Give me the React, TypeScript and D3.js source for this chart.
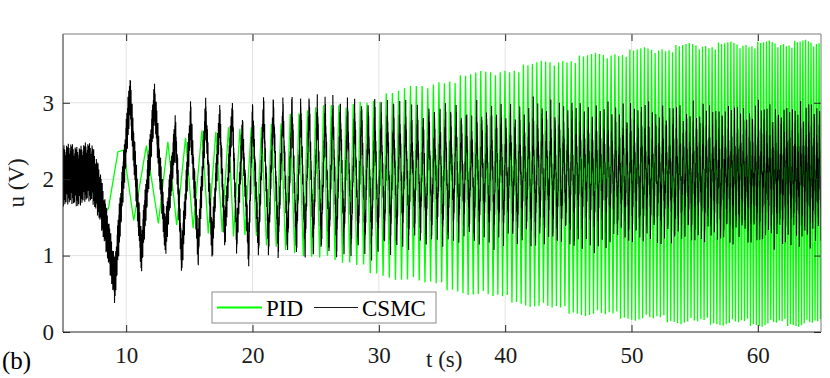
import React, { Component } from "react";
import * as d3 from "d3";

// axis ticks
const xTicks = [10, 20, 30, 40, 50, 60];
const yTicks = [0, 1, 2, 3];

const pidEarlyT = [5.0, 5.25, 5.5, 5.75, 6.0, 6.25, 6.5, 6.75, 7.0, 7.3, 8.1, 8.6, 9.35, 9.8, 10.6, 11.6, 12.55, 13.3, 14.0, 14.7, 15.3, 16.0, 16.5, 17.1, 17.6, 18.1, 18.5, 19.0, 19.4, 19.9];
const pidEarlyU = [2.05, 1.9, 2.15, 1.88, 2.12, 1.9, 2.1, 1.88, 2.08, 1.85, 1.5, 1.62, 2.36, 2.38, 1.46, 2.44, 1.42, 2.49, 1.4, 2.54, 1.36, 2.64, 1.29, 2.62, 1.31, 2.68, 1.25, 2.66, 1.27, 2.68];

// dense part: oscillation period and envelopes read at these times
const chirpT = [20, 25, 30, 35, 40, 45, 50, 55, 60, 65];
const chirpPeriod = [0.82, 0.63, 0.5, 0.43, 0.37, 0.33, 0.29, 0.26, 0.23, 0.21];
const pidUpper = [2.68, 2.9, 3.06, 3.28, 3.42, 3.56, 3.66, 3.74, 3.76, 3.78];
const pidLower = [1.22, 1.0, 0.78, 0.6, 0.44, 0.28, 0.2, 0.14, 0.12, 0.12];
const pidRipple = [0, 0.04, -0.03, 0.05, -0.02, 0.03, -0.05, 0.01, 0.04, -0.04, 0.02, -0.01, 0.03];

// CSMC: centre of the noisy trace at its turning points
const csmcEarlyT = [5.0, 5.6, 6.2, 6.8, 7.3, 7.9, 8.56, 9.1, 10.3, 11.2, 12.25, 13.1, 13.9, 14.4, 15.1, 15.7, 16.3, 16.8, 17.4, 17.8, 18.4, 18.75, 19.2, 19.7, 20.0];
const csmcEarlyU = [2.04, 2.08, 2.02, 2.1, 2.08, 1.8, 1.22, 0.66, 3.1, 1.02, 3.02, 1.22, 2.6, 0.96, 2.78, 1.08, 2.86, 1.12, 2.8, 1.28, 2.86, 1.2, 2.62, 1.04, 2.86];
const csmcMid = [2.0, 2.0, 1.98, 1.96, 1.95, 1.95, 1.96, 1.95, 1.96, 1.95];
const csmcAmp = [0.92, 0.95, 0.92, 0.88, 0.9, 0.95, 0.9, 0.88, 0.88, 0.9];
const csmcSpread = [0.1, 0.15, 0.2, 0.42, 0.45, 0.45, 0.45, 0.45, 0.45, 0.45];
const csmcCycle = [0, 0.6, 0.2, 0.9, 0.1, 0.7, 0.35, 1.0, 0.15, 0.8, 0.4, 0.55, 0.05, 0.75, 0.3, 0.95, 0.25, 0.65];
const noiseT = [5, 7.3, 8.6, 9.5, 12, 20, 30, 65];
const noiseAmp = [0.4, 0.38, 0.3, 0.3, 0.28, 0.24, 0.22, 0.22];
const noiseSeq = [0.9, -0.6, 0.4, -1.0, 0.7, -0.3, 1.0, -0.8, 0.2, -0.5, 0.85, -0.95, 0.5, -0.2, 0.65, -0.75, 0.3, -0.9, 0.75, -0.4, 0.95, -0.65, 0.1];

const FONT = "'Liberation Serif', 'Times New Roman', serif";
const GREEN = "#00ff00";

class App extends Component {
    svgRef = React.createRef<SVGSVGElement>();

    componentDidMount() {
        this.drawChart();
    }

    drawChart() {
        const svg = d3.select(this.svgRef.current);
        svg.selectAll("*").remove();

        const left = 63, right = 821, top = 34, bottom = 332;
        const x = d3.scaleLinear().domain([5, 65]).range([left, right]);
        const y = d3.scaleLinear().domain([0, 3.9]).range([bottom, top]);

        const periodAt = d3.scaleLinear().domain(chirpT).range(chirpPeriod).clamp(true);
        const upAt = d3.scaleLinear().domain(chirpT).range(pidUpper).clamp(true);
        const lowAt = d3.scaleLinear().domain(chirpT).range(pidLower).clamp(true);
        const midAt = d3.scaleLinear().domain(chirpT).range(csmcMid).clamp(true);
        const ampAt = d3.scaleLinear().domain(chirpT).range(csmcAmp).clamp(true);
        const spreadAt = d3.scaleLinear().domain(chirpT).range(csmcSpread).clamp(true);
        const noiseAt = d3.scaleLinear().domain(noiseT).range(noiseAmp).clamp(true);

        // turning points of both traces
        const pidT = [...pidEarlyT];
        const pidU = [...pidEarlyU];
        const csmcT = [...csmcEarlyT];
        const csmcU = [...csmcEarlyU];
        let t = pidEarlyT[pidEarlyT.length - 1];
        let k = 0;
        while (t < 65.4) {
            t += periodAt(t) / 2;
            k++;
            const peak = k % 2 === 0;
            const r = pidRipple.length;
            pidT.push(t);
            pidU.push(peak ? upAt(t) + pidRipple[k % r] : lowAt(t) - pidRipple[(k + 5) % r]);

            const tb = t + 0.2 * periodAt(t);
            const c = csmcCycle[k % csmcCycle.length];
            const a = ampAt(tb) * (1 - spreadAt(tb) * c);
            csmcT.push(tb);
            csmcU.push(peak ? midAt(tb) + a : midAt(tb) - a);
        }

        const pidData = pidT.map((d, i) => [d, pidU[i]] as [number, number]);

        const slow = d3.scaleLinear().domain(csmcT).range(csmcU);
        const grid = d3.range(5, 65.01, 0.015);
        const times = grid.concat(csmcT.filter((d) => d <= 65)).sort((a, b) => a - b);
        const csmcData = times.map((d, i) => [d, slow(d) + noiseAt(d) * noiseSeq[i % noiseSeq.length]] as [number, number]);

        svg.append("rect").attr("width", 830).attr("height", 378).attr("fill", "#fff");

        // grid
        svg.append("g")
            .selectAll("line")
            .data(xTicks)
            .enter()
            .append("line")
            .attr("x1", (d) => x(d))
            .attr("x2", (d) => x(d))
            .attr("y1", top)
            .attr("y2", bottom)
            .attr("stroke", "#e3e3e3");
        svg.append("g")
            .selectAll("line")
            .data(yTicks.slice(1))
            .enter()
            .append("line")
            .attr("x1", left)
            .attr("x2", right)
            .attr("y1", (d) => y(d))
            .attr("y2", (d) => y(d))
            .attr("stroke", "#e3e3e3");

        svg.append("clipPath")
            .attr("id", "plot-clip")
            .append("rect")
            .attr("x", left)
            .attr("y", top)
            .attr("width", right - left)
            .attr("height", bottom - top);

        const line = d3
            .line<[number, number]>()
            .x((d) => x(d[0]))
            .y((d) => y(d[1]));

        const plot = svg.append("g").attr("clip-path", "url(#plot-clip)");
        plot.append("path")
            .datum(pidData)
            .attr("d", line)
            .attr("fill", "none")
            .attr("stroke", GREEN)
            .attr("stroke-width", 1.3);
        plot.append("path")
            .datum(csmcData)
            .attr("d", line)
            .attr("fill", "none")
            .attr("stroke", "#000")
            .attr("stroke-width", 1.1);

        // axes (ticks inside, MATLAB style)
        const styleAxis = (g) => {
            g.select(".domain").remove();
            g.selectAll(".tick line").attr("stroke", "#262626");
            g.attr("font-size", 23).attr("font-family", FONT);
            g.selectAll("text").attr("fill", "#1a1a1a");
        };
        svg.append("g")
            .attr("transform", `translate(0,${bottom})`)
            .call(d3.axisBottom(x).tickValues(xTicks).tickSize(-7).tickPadding(15))
            .call(styleAxis);
        svg.append("g")
            .attr("transform", `translate(0,${top})`)
            .call(d3.axisTop(x).tickValues(xTicks).tickSize(-7).tickFormat(() => ""))
            .call(styleAxis);
        svg.append("g")
            .attr("transform", `translate(${left},0)`)
            .call(d3.axisLeft(y).tickValues(yTicks).tickSize(-7).tickPadding(9).tickFormat(d3.format("d")))
            .call(styleAxis);
        svg.append("g")
            .attr("transform", `translate(${right},0)`)
            .call(d3.axisRight(y).tickValues(yTicks).tickSize(-7).tickFormat(() => ""))
            .call(styleAxis);

        // box
        svg.append("line").attr("x1", left).attr("x2", right).attr("y1", bottom).attr("y2", bottom).attr("stroke", "#262626");
        svg.append("line").attr("x1", left).attr("x2", left).attr("y1", top).attr("y2", bottom).attr("stroke", "#262626");
        svg.append("line").attr("x1", left).attr("x2", right).attr("y1", top).attr("y2", top).attr("stroke", "#7a7a7a");
        svg.append("line").attr("x1", right).attr("x2", right).attr("y1", top).attr("y2", bottom).attr("stroke", "#7a7a7a");

        // labels
        svg.append("text")
            .attr("x", 426)
            .attr("y", 367)
            .attr("font-family", FONT)
            .attr("font-size", 23)
            .attr("fill", "#1a1a1a")
            .text("t (s)");
        svg.append("text")
            .attr("transform", "translate(24,183) rotate(-90)")
            .attr("text-anchor", "middle")
            .attr("font-family", FONT)
            .attr("font-size", 23)
            .attr("fill", "#1a1a1a")
            .text("u (V)");
        svg.append("text")
            .attr("x", 2)
            .attr("y", 369)
            .attr("font-family", FONT)
            .attr("font-size", 25)
            .attr("fill", "#000")
            .text("(b)");

        // legend
        const lg = svg.append("g");
        lg.append("rect")
            .attr("x", 212)
            .attr("y", 292)
            .attr("width", 224)
            .attr("height", 31)
            .attr("fill", "#fff")
            .attr("stroke", "#8a8a8a");
        lg.append("line").attr("x1", 217).attr("x2", 262).attr("y1", 307.5).attr("y2", 307.5).attr("stroke", GREEN).attr("stroke-width", 2);
        lg.append("line").attr("x1", 314).attr("x2", 358).attr("y1", 307.5).attr("y2", 307.5).attr("stroke", "#000").attr("stroke-width", 0.9);
        lg.append("text").attr("x", 266).attr("y", 316).attr("font-family", FONT).attr("font-size", 23).attr("fill", "#000").text("PID");
        lg.append("text").attr("x", 362).attr("y", 316).attr("font-family", FONT).attr("font-size", 23).attr("fill", "#000").text("CSMC");
    }

    render() {
        return (
            <div>
                <svg
                    ref={this.svgRef}
                    width="830"
                    height="378"
                    style={{ position: "absolute", left: 0, top: 0 }}
                ></svg>
            </div>
        );
    }
}

export default App;
